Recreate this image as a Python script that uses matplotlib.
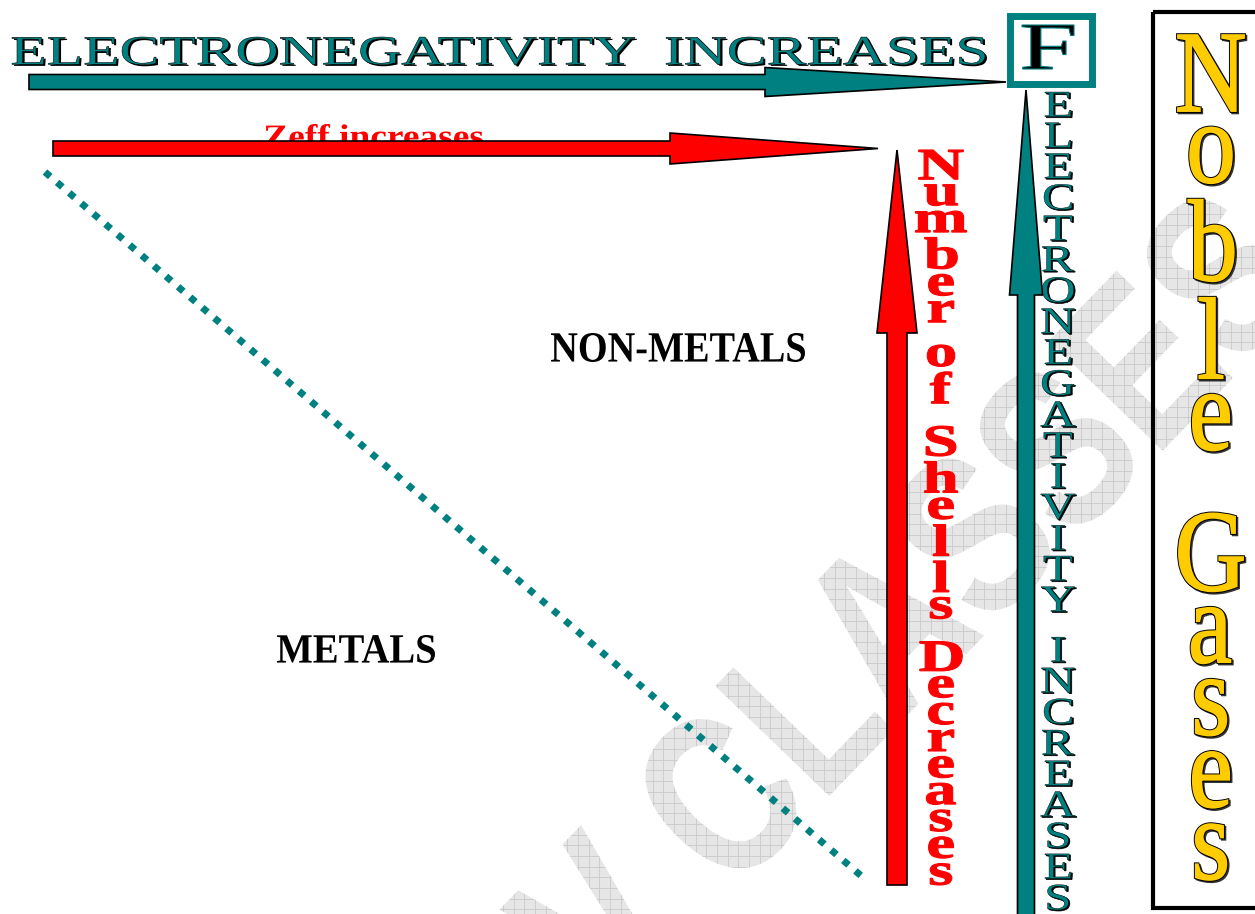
import matplotlib
matplotlib.use('Agg')
import numpy as np
import matplotlib.pyplot as plt
from matplotlib.textpath import TextPath
from matplotlib.font_manager import FontProperties
from matplotlib.patches import PathPatch, Polygon, Rectangle
from matplotlib.transforms import Affine2D

TEAL = '#008080'
RED = '#ff0000'
GOLD = '#ffcc00'

# labels of the diagram
top_label = "ELECTRONEGATIVITY  INCREASES"
zeff_label = "Zeff increases"
shells_label = "Number of Shells Decreases"
side_label = "ELECTRONEGATIVITY INCREASES"
noble_label = "Noble Gases"
region_labels = ["NON-METALS", "METALS"]
corner_label = "F"
watermark = "V CLASSES"

serif = FontProperties(family='Liberation Serif')
serif_b = FontProperties(family='Liberation Serif', weight='bold')
sans_b = FontProperties(family='Liberation Sans', weight='bold')

fig = plt.figure(figsize=(12.55, 9.14), dpi=100)
ax = fig.add_axes([0, 0, 1, 1])
ax.set_xlim(0, 1255)
ax.set_ylim(914, 0)
ax.axis('off')


def put(path, dx=0, dy=0, **kw):
    p = Affine2D().translate(dx, dy).transform_path(path)
    patch = PathPatch(p, **kw)
    ax.add_patch(patch)
    return patch


def fit(s, font, x0, x1, y0, y1):
    # text path stretched into the box x0..x1, y0..y1 (pixels, y down)
    tp = TextPath((0, 0), s, size=100, prop=font)
    e = tp.get_extents()
    t = (Affine2D().translate(-e.x0, -e.y1)
         .scale((x1 - x0) / e.width, -(y1 - y0) / e.height)
         .translate(x0, y0))
    return t.transform_path(tp)


def stack(s, font, xc, y0, y1, gap, space, xs):
    # letters stacked upright one under the other, filling y0..y1
    glyphs = []
    for ch in s:
        if ch == ' ':
            glyphs.append(None)
        else:
            tp = TextPath((0, 0), ch, size=100, prop=font)
            glyphs.append((tp, tp.get_extents()))
    hs = [space if g is None else g[1].height for g in glyphs]
    k = (y1 - y0) / (sum(hs) + gap * (len(hs) - 1))
    paths = []
    y = y0
    for g, h in zip(glyphs, hs):
        if g is not None:
            tp, e = g
            t = (Affine2D().translate(-(e.x0 + e.x1) / 2, -e.y1)
                 .scale(k * xs, -k).translate(xc, y))
            paths.append(t.transform_path(tp))
        y += (h + gap) * k
    return paths


def harrow(x0, xh, x1, yc, hw, hh, color, z):
    pts = [(x0, yc - hw), (xh, yc - hw), (xh, yc - hh), (x1, yc),
           (xh, yc + hh), (xh, yc + hw), (x0, yc + hw)]
    ax.add_patch(Polygon(pts, closed=True, fc=color, ec='black', lw=1.2, zorder=z))


def varrow(xc, yb, yh, yt, hw, hh, color, z):
    pts = [(xc - hw, yb), (xc - hw, yh), (xc - hh, yh), (xc, yt),
           (xc + hh, yh), (xc + hw, yh), (xc + hw, yb)]
    ax.add_patch(Polygon(pts, closed=True, fc=color, ec='black', lw=1.2, zorder=z))


# watermark with a light grid inside the letters
wm = TextPath((0, 0), watermark, size=100, prop=sans_b)
c_right = TextPath((0, 0), watermark[:3], size=100, prop=sans_b).get_extents().x1
c_w = TextPath((0, 0), 'C', size=100, prop=sans_b).get_extents().width
wm_t = (Affine2D().translate(-(c_right - c_w / 2), -36)
        .scale(1.8, -2.3).rotate_deg(-46).translate(717, 793))
wm_patch = put(wm_t.transform_path(wm), fc='#e6e6e6', ec='none', zorder=0)
grid = np.arange(0, 1260, 10.7)
gv = ax.vlines(grid, 0, 914, colors='#c9c9c9', lw=0.6, zorder=0.5)
gh = ax.hlines(grid[grid < 920], 0, 1255, colors='#c9c9c9', lw=0.6, zorder=0.5)
gv.set_clip_path(wm_patch)
gh.set_clip_path(wm_patch)

# metals / non-metals divide
ax.plot([45, 866], [172, 880], color=TEAL, lw=5, dashes=(1, 1.3),
        dash_capstyle='butt', zorder=2)

# top title
title = fit(top_label, serif, 12, 985, 37, 65)
put(title, 2.0, 1.5, fc='black', ec='none', zorder=3)
put(title, fc=TEAL, ec='black', lw=0.4, zorder=3)
harrow(29, 765, 1006, 82, 7.5, 14.5, TEAL, 4)

# Zeff arrow, text partly hidden behind it
put(fit(zeff_label, serif_b, 265, 483, 124, 147), fc=RED, ec='none', zorder=3)
harrow(53, 670, 878, 148.5, 7.5, 15.5, RED, 4)

# region names
put(fit(region_labels[0], serif_b, 551, 805, 333, 362), fc='black', ec='none', zorder=3)
put(fit(region_labels[1], serif_b, 277, 435, 635, 663), fc='black', ec='none', zorder=3)

# number of shells arrow and text
varrow(897, 885, 333, 150, 10, 20, RED, 4)
for p in stack(shells_label, serif_b, 941, 150, 885, 12, 27, 1.45):
    put(p, fc=RED, ec=RED, lw=0.8, zorder=3)

# electronegativity up arrow and text
varrow(1026, 925, 295, 90, 8.5, 16.5, TEAL, 4)
for p in stack(side_label, serif, 1058, 92, 910, 16, 36, 1.3):
    put(p, 1.4, 1.0, fc='black', ec='black', lw=0.5, zorder=3)
    put(p, fc=TEAL, ec='black', lw=0.3, zorder=3)

# fluorine box
ax.add_patch(Rectangle((1009.5, 15.5), 82, 68, fc='white', ec=TEAL, lw=5, zorder=5))
put(fit(corner_label, serif, 1022, 1074, 25, 69), fc='black', ec=TEAL, lw=0.8, zorder=6)

# noble gases column
ax.add_patch(Rectangle((1153, 12), 130, 896, fill=False, ec='black', lw=3, zorder=5))
for p in stack(noble_label, serif, 1211, 35, 880, 14, 26, 0.85):
    put(p, 1.5, 1.5, fc='#333333', ec='#333333', lw=2.4, zorder=5)
    put(p, fc=GOLD, ec='black', lw=2.6, zorder=6)
    put(p, fc=GOLD, ec=GOLD, lw=1.2, zorder=6)

fig.savefig('out.png', dpi=100)
